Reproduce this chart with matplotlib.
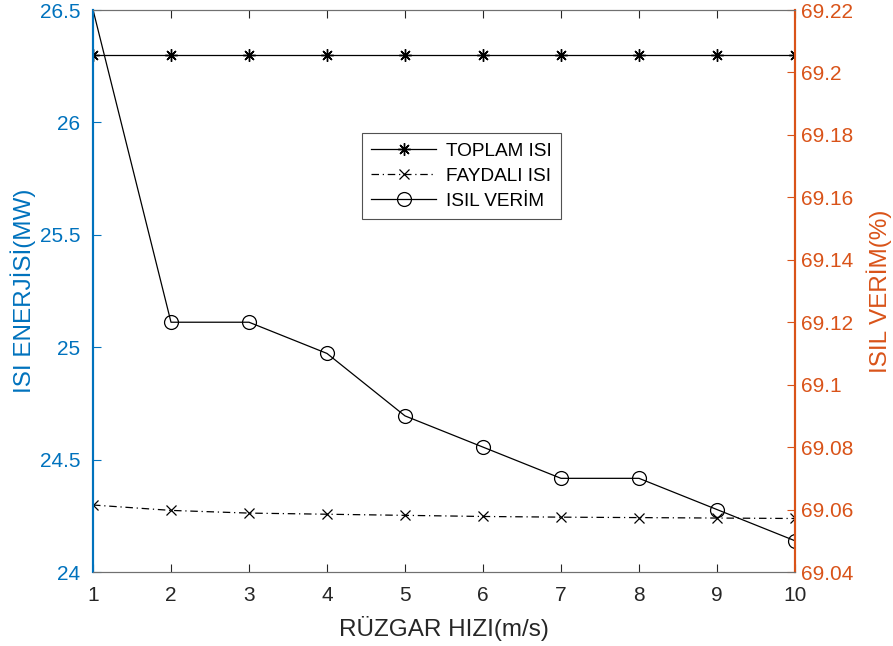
import numpy as np
import matplotlib.pyplot as plt

plt.rcParams['font.family'] = ['Liberation Sans', 'DejaVu Sans']

# --- Veriler ---
ruzgar = [1, 2, 3, 4, 5, 6, 7, 8, 9, 10]
toplam_isi = [26.3, 26.3, 26.3, 26.3, 26.3, 26.3, 26.3, 26.3, 26.3, 26.3]
faydali_isi = [24.298, 24.274, 24.262, 24.257, 24.252, 24.247, 24.244, 24.242, 24.240, 24.238]
isil_verim = [69.2201, 69.12, 69.12, 69.11, 69.09, 69.08, 69.07, 69.07, 69.06, 69.05]

blue = '#0072BD'
orange = '#D95319'
gray = '#262626'

fig = plt.figure(figsize=(8.93, 6.46), dpi=100)
ax = fig.add_axes([93/893, 1 - 572/646, 702/893, 562/646])
ax2 = ax.twinx()

l1, = ax.plot(ruzgar, toplam_isi, color='black', lw=0.9, marker=(8, 2, 0), ms=9,
              mew=1.0, label='TOPLAM ISI')
l2, = ax.plot(ruzgar, faydali_isi, color='black', lw=0.9, ls=(0, (6, 3, 1, 3)),
              marker='x', ms=7, mew=0.9, label='FAYDALI ISI')
l3, = ax2.plot(ruzgar, isil_verim, color='black', lw=0.9, marker='o', ms=10,
               mfc='none', mew=0.9, markevery=list(range(1, 10)), label='ISIL VERİM')

ax.set_xlim(1, 10)
ax.set_ylim(24, 26.5)
ax2.set_ylim(69.04, 69.22)
ax.set_xticks(range(1, 11))
ax.set_yticks([24, 24.5, 25, 25.5, 26, 26.5])
ax.set_yticklabels(['24', '24.5', '25', '25.5', '26', '26.5'])
ax2.set_yticks(np.arange(69.04, 69.2201, 0.02))
ax2.set_yticklabels(['69.04', '69.06', '69.08', '69.1', '69.12', '69.14',
                     '69.16', '69.18', '69.2', '69.22'])

for a in (ax, ax2):
    a.spines['top'].set_color('#707070')
    a.spines['bottom'].set_color('#707070')
    a.spines['left'].set_color(blue)
    a.spines['right'].set_color(orange)
    a.spines['left'].set_linewidth(1.5)
    a.spines['right'].set_linewidth(1.5)

ax.tick_params(axis='x', direction='in', length=6, top=True, colors=gray,
               labelsize=15, pad=10)
ax.tick_params(axis='y', direction='in', length=6, colors=blue, labelsize=15, pad=9)
ax2.tick_params(axis='y', direction='in', length=6, colors=orange, labelsize=15, pad=4)

ax.set_xlabel('RÜZGAR HIZI(m/s)', fontsize=17.5, color=gray, labelpad=8)
ax.set_ylabel('ISI ENERJİSİ(MW)', fontsize=17.5, color=blue, labelpad=3)
ax2.set_ylabel('ISIL VERİM(%)', fontsize=17.5, color=orange, labelpad=10)

leg = ax2.legend(handles=[l1, l2, l3], loc='upper left',
                 bbox_to_anchor=(0.383, 0.781), borderaxespad=0, fontsize=13.7,
                 frameon=True, fancybox=False, edgecolor='#262626',
                 handlelength=3.4, borderpad=0.5, labelspacing=0.4,
                 handletextpad=0.5)
leg.get_frame().set_linewidth(0.8)

fig.savefig('out.png', dpi=100)
